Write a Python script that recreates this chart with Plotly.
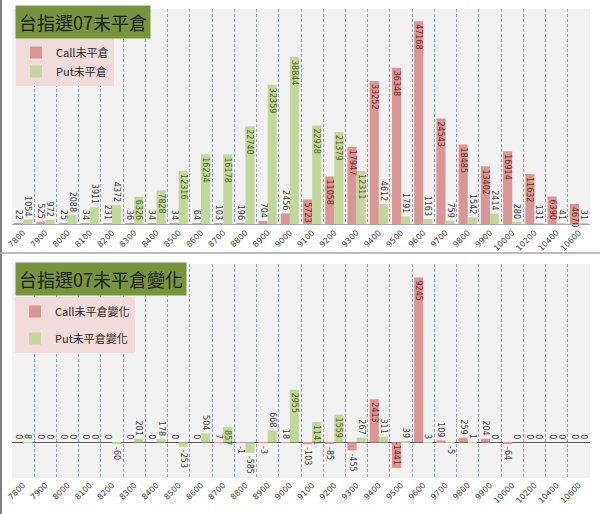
import plotly.graph_objects as go

strikes = ["7800", "7900", "8000", "8100", "8200", "8300", "8400", "8500", "8600",
           "8700", "8800", "8900", "9000", "9100", "9200", "9300", "9400", "9500",
           "9600", "9700", "9800", "9900", "10000", "10200", "10400", "10600"]
call_oi = [22, 525, 25, 34, 231, 36, 34, 34, 64, 103, 196, 704, 2456, 5723, 11058,
           17947, 33252, 36348, 47168, 24543, 18485, 13402, 16914, 11632, 6390, 4670]
put_oi = [1054, 972, 2088, 3911, 4372, 6326, 7828, 12316, 16234, 16178, 22740, 32359,
          38844, 22928, 21379, 12311, 4612, 1791, 1163, 759, 1542, 2414, 280, 131, 41, 31]
call_chg = [0, 0, 0, 0, 0, 0, 0, 0, 0, 7, -1, -3, 18, -103, -85, -455, 2413, -1441,
            9245, 109, 259, 204, -64, 0, 0, 0]
put_chg = [8, 0, 0, 0, -60, 201, 178, -253, 504, 857, -585, 668, 2955, 1141, 1559,
           267, 311, 39, 3, -5, 1, 0, 0, 0, 0, 0]

W, H = 600, 514
CALL = "#D99694"
PUT = "#C3D69B"
CALL_TXT = "#7A1F1F"
PUT_TXT = "#4F6228"
OUT_TXT = "#404040"
NUMFONT = "DejaVu Sans"
CJK = "Noto Sans CJK TC"

top_range = [0, 50000]
bot_range = [-2000, 10000]
top_px = (224 - 9) / (top_range[1] - top_range[0])
bot_px = (478 - 264) / (bot_range[1] - bot_range[0])


def positions(vals, ppu):
    return ["inside" if abs(v) * ppu >= len(str(v)) * 4.75 + 1 else "outside" for v in vals]


def bar(x, y, name, color, txtcolor, ppu, xa, ya, leg, grp):
    return go.Bar(
        x=x, y=y, name=name, marker_color=color, marker_line_width=0,
        text=[str(v) for v in y], textposition=positions(y, ppu), textangle=90,
        insidetextanchor="end", constraintext="none", cliponaxis=False,
        insidetextfont=dict(color=txtcolor, size=8, family=NUMFONT),
        outsidetextfont=dict(color=OUT_TXT, size=8, family=NUMFONT),
        xaxis=xa, yaxis=ya, legend=leg, legendgroup=grp, hoverinfo="x+y",
    )


fig = go.Figure()
fig.add_trace(bar(strikes, call_oi, "Call未平倉", CALL, CALL_TXT, top_px, "x", "y", "legend", "c1"))
fig.add_trace(bar(strikes, put_oi, "Put未平倉", PUT, PUT_TXT, top_px, "x", "y", "legend", "p1"))
fig.add_trace(bar(strikes, call_chg, "Call未平倉變化", CALL, CALL_TXT, bot_px, "x2", "y2", "legend2", "c2"))
fig.add_trace(bar(strikes, put_chg, "Put未平倉變化", PUT, PUT_TXT, bot_px, "x2", "y2", "legend2", "p2"))

xcommon = dict(
    domain=[12 / W, 590 / W], type="category", range=[-0.5, len(strikes) - 0.5],
    tickangle=-45, tickson="boundaries", ticks="outside", ticklen=4,
    tickcolor="rgba(0,0,0,0)", showgrid=True,
    gridcolor="#93A3B8", griddash="3px,2px", gridwidth=1,
    tickfont=dict(size=8, color=OUT_TXT, family=NUMFONT),
    automargin=False, fixedrange=True,
)
fig.update_layout(
    width=W, height=H, margin=dict(l=0, r=0, t=0, b=0),
    paper_bgcolor="white", plot_bgcolor="#F2F2F2",
    barmode="group", bargap=0.18, bargroupgap=0,
    xaxis=dict(xcommon, anchor="y", showline=True, linecolor="#A6A6A6", linewidth=1),
    yaxis=dict(domain=[(H - 224) / H, (H - 9) / H], anchor="x", range=top_range,
               showticklabels=False, showgrid=False, zeroline=False, automargin=False,
               fixedrange=True),
    xaxis2=dict(xcommon, anchor="y2", showline=False),
    yaxis2=dict(domain=[(H - 478) / H, (H - 264) / H], anchor="x2", range=bot_range,
                showticklabels=False, showgrid=False, zeroline=True,
                zerolinecolor="#595959", zerolinewidth=1, automargin=False,
                fixedrange=True),
    legend=dict(x=16 / W, y=1 - 38 / H, xanchor="left", yanchor="top",
                bgcolor="#F2DCDB", font=dict(size=11, color="#262626", family=CJK),
                traceorder="normal", itemclick=False, itemdoubleclick=False),
    legend2=dict(x=15 / W, y=1 - 297 / H, xanchor="left", yanchor="top",
                 bgcolor="#F2DCDB", font=dict(size=11, color="#262626", family=CJK),
                 traceorder="grouped", tracegroupgap=8,
                 itemclick=False, itemdoubleclick=False),
    showlegend=True,
)

fig.add_annotation(text="台指選07未平倉", x=15 / W, y=1 - 5 / H, xref="paper", yref="paper",
                   xanchor="left", yanchor="top", showarrow=False, bgcolor="#77933C",
                   borderpad=3, font=dict(size=18, color="#1A1A1A", family=CJK))
fig.add_annotation(text="台指選07未平倉變化", x=15 / W, y=1 - 262 / H, xref="paper", yref="paper",
                   xanchor="left", yanchor="top", showarrow=False, bgcolor="#77933C",
                   borderpad=3, font=dict(size=18, color="#1A1A1A", family=CJK))

fig.add_shape(type="line", xref="paper", yref="paper", x0=1 / W, x1=1 / W, y0=0, y1=1,
              line=dict(color="#808080", width=2))
fig.add_shape(type="line", xref="paper", yref="paper", x0=0, x1=1, y0=1 - 253 / H, y1=1 - 253 / H,
              line=dict(color="#A6A6A6", width=1.5))

fig.write_html("out.html")
